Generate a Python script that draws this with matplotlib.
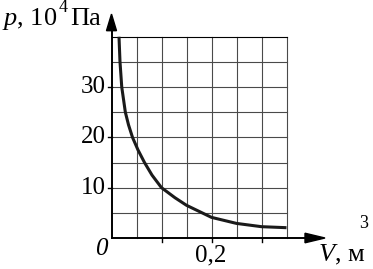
import matplotlib
matplotlib.use("Agg")
import matplotlib.pyplot as plt
from matplotlib.patches import Polygon

# p(V): V in m^3, p in 10^4 Pa
volume = [0.015, 0.017, 0.0205, 0.0277, 0.034, 0.042, 0.053, 0.066, 0.081,
          0.100, 0.127, 0.150, 0.200, 0.250, 0.300, 0.350]
pressure = [40.0, 35.0, 30.0, 25.0, 22.5, 20.0, 17.5, 15.0, 12.5,
            10.0, 8.0, 6.5, 4.1, 2.9, 2.25, 2.05]

v_grid = [0.05, 0.10, 0.15, 0.20, 0.25, 0.30, 0.35]
p_grid = [5, 10, 15, 20, 25, 30, 35, 40]
p_ticks = [10, 20, 30]
p_ticklabels = ["10", "20", "30"]
v_ticks = [0.1, 0.2, 0.3]

plt.rcParams["font.family"] = ["Liberation Serif", "DejaVu Serif"]
plt.rcParams["mathtext.fontset"] = "custom"
plt.rcParams["mathtext.rm"] = "Liberation Serif"
plt.rcParams["mathtext.it"] = "Liberation Serif:italic"

fig = plt.figure(figsize=(3.73, 2.69), dpi=100)
ax = fig.add_axes([0, 0, 1, 1])
ax.set_xlim(-0.223, 0.523)
ax.set_ylim(-6.16, 47.3)
ax.axis("off")

vmax, pmax = v_grid[-1], p_grid[-1]
gc = "#4a4a4a"
for v in v_grid:
    ax.plot([v, v], [0, pmax], color=gc, lw=0.8, zorder=1)
for p in p_grid:
    ax.plot([0, vmax], [p, p], color=gc if p < pmax else "black", lw=0.8, zorder=1)

# axes with arrows
ax.plot([0, 0.395], [0, 0], color="black", lw=1.4, zorder=3)
ax.plot([0, 0], [0, 42.0], color="black", lw=1.4, zorder=3)
ax.add_patch(Polygon([[0.387, 0.95], [0.387, -0.95], [0.427, 0]],
                     closed=True, color="black", zorder=4))
ax.add_patch(Polygon([[-0.010, 41.2], [0.010, 41.2], [0, 44.5]],
                     closed=True, color="black", zorder=4))

for p in p_ticks:
    ax.plot([-0.008, 0], [p, p], color="black", lw=1.0, zorder=3)
for v in v_ticks:
    ax.plot([v, v], [-0.7, 0], color="black", lw=1.0, zorder=3)

ax.plot(volume, pressure, color="#1a1a1a", lw=2.2, solid_capstyle="butt", zorder=5)

fs = 18
fl = 19
for p, lab in zip(p_ticks, p_ticklabels):
    ax.text(-0.012, p, lab, ha="right", va="center", fontsize=fs)
ax.text(-0.020, -3.4, "0", ha="center", va="baseline", fontsize=fs, style="italic")
ax.text(0.199, -4.75, "0,2", ha="center", va="baseline", fontsize=fs)

ax.text(0.413, -4.75, "$V$, м", ha="left", va="baseline", fontsize=fl)
ax.text(0.496, 2.0, "3", ha="left", va="baseline", fontsize=13)

ax.text(-0.219, 42.35, "$p$, 10", ha="left", va="baseline", fontsize=fl)
ax.text(-0.105, 44.9, "4", ha="left", va="baseline", fontsize=13)
ax.text(-0.082, 42.35, "Па", ha="left", va="baseline", fontsize=fl)

fig.savefig("out.png", dpi=100)
